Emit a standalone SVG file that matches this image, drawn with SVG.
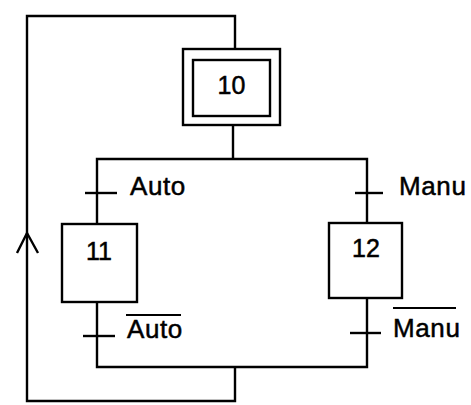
<svg xmlns="http://www.w3.org/2000/svg" width="471" height="405" viewBox="0 0 471 405">
<style>
.ln{stroke:#000;stroke-width:2.4;fill:none}
.bx{stroke:#000;stroke-width:2.4;fill:#fff}
.t{font-family:"Liberation Sans",Arial,sans-serif;font-size:25px;fill:#000;stroke:#000;stroke-width:0.5}
.lb{font-size:26px;letter-spacing:0.6px}
.ov{stroke:#000;stroke-width:1.8}
</style>
<rect width="471" height="405" fill="#fff"/>
<g id="connectors">
<polyline class="ln" points="235,49 235,16 27,16 27,401 235,401 235,367"/>
<polyline class="ln" points="17,253 27,233 38,253"/>
<line class="ln" x1="233" y1="125" x2="233" y2="159"/>
<polyline class="ln" points="97,224 97,159 367,159 367,223"/>
<polyline class="ln" points="97,302 97,367 367,367 367,298"/>
<line class="ln" x1="85" y1="193" x2="117" y2="193"/>
<line class="ln" x1="355" y1="193" x2="383" y2="193"/>
<line class="ln" x1="83" y1="336" x2="115" y2="336"/>
<line class="ln" x1="350" y1="333" x2="381" y2="333"/>
</g>
<g id="t1"><text class="t lb" x="130" y="195">Auto</text></g>
<g id="t2"><text class="t lb" x="399" y="195">Manu</text></g>
<g id="t3"><text class="t lb" x="127" y="338">Auto</text><line class="ov" x1="126" y1="315" x2="181" y2="315"/></g>
<g id="t4"><text class="t lb" x="393" y="337">Manu</text><line class="ov" x1="393" y1="308" x2="456" y2="308"/></g>
<g id="step10">
<rect class="bx" x="183" y="49" width="97" height="76"/>
<rect class="bx" x="193" y="60" width="77" height="56"/>
<text class="t" x="231.5" y="94" text-anchor="middle">10</text>
</g>
<g id="step11">
<rect class="bx" x="62" y="224" width="75" height="78"/>
<text class="t" x="99" y="260" text-anchor="middle">11</text>
</g>
<g id="step12">
<rect class="bx" x="329" y="223" width="73" height="75"/>
<text class="t" x="366" y="257" text-anchor="middle">12</text>
</g>
</svg>
